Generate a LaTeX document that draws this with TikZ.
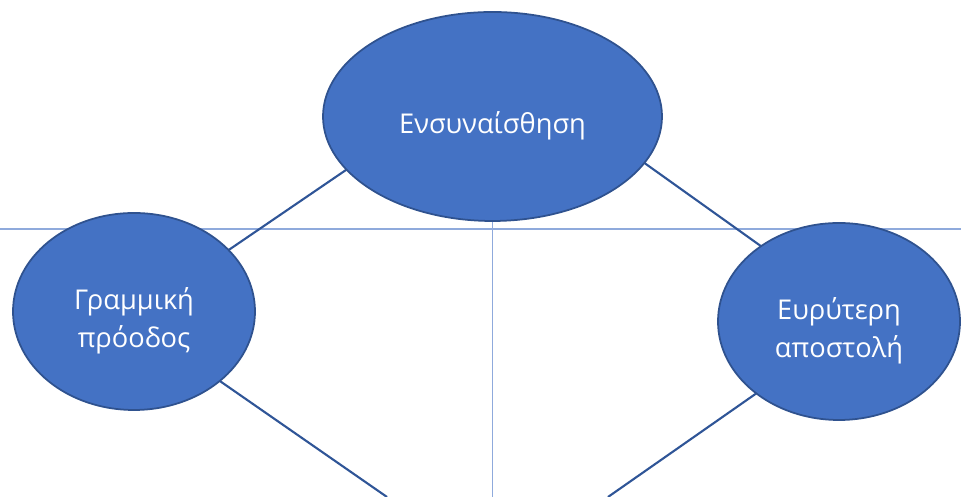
\documentclass[tikz,border=0pt]{standalone}
\usepackage{fontspec}
\setmainfont{Open Sans}
\usetikzlibrary{shapes.geometric, backgrounds}
\definecolor{NodeBlue}{HTML}{4472C4}
\definecolor{EdgeBlue}{HTML}{2F528F}
\definecolor{LinkBlue}{HTML}{2F5597}
\definecolor{GuideBlue}{HTML}{8FAADC}
\tikzset{
  bigbubble/.style={ellipse, draw=EdgeBlue, line width=1pt, fill=NodeBlue, inner sep=0pt, outer sep=0pt, minimum width=6.78cm, minimum height=4.18cm},
  bubble/.style={bigbubble, minimum width=4.84cm, minimum height=3.94cm},
  bubbletext/.style={text=white, align=center, yshift=-0.18cm, font=\fontsize{15.5}{21.5}\selectfont},
  link/.style={line width=1.2pt, draw=LinkBlue},
  guide/.style={line width=0.9pt, draw=GuideBlue}
}

\begin{document}
\begin{tikzpicture}
\useasboundingbox (0,0) rectangle (19.22,9.94);
\node[bigbubble, label={[bubbletext]center:Ενσυναίσθηση}] (empathy) at (9.85,7.61) {};
\node[bubble, label={[bubbletext]center:{Γραμμική\\πρόοδος}}] (progress) at (2.68,3.71) {};
\node[bubble, label={[bubbletext]center:{Ευρύτερη\\αποστολή}}] (mission) at (16.78,3.51) {};
\coordinate (axisW) at (0,5.36);
\coordinate (axisE) at (19.22,5.36);
\coordinate (axisS) at (9.85,0);
\coordinate (downL) at (7.74,0);
\coordinate (downR) at (12.16,0);
\begin{scope}[on background layer]
\draw[guide] (axisW) -- (axisE);
\draw[guide] (empathy.south) -- (axisS);
\draw[link] (empathy.200) -- (progress.33);
\draw[link] (empathy.-17.5) -- (mission.136);
\draw[link] (progress.-39) -- (downL);
\draw[link] (mission.221) -- (downR);
\end{scope}
\end{tikzpicture}
\end{document}
